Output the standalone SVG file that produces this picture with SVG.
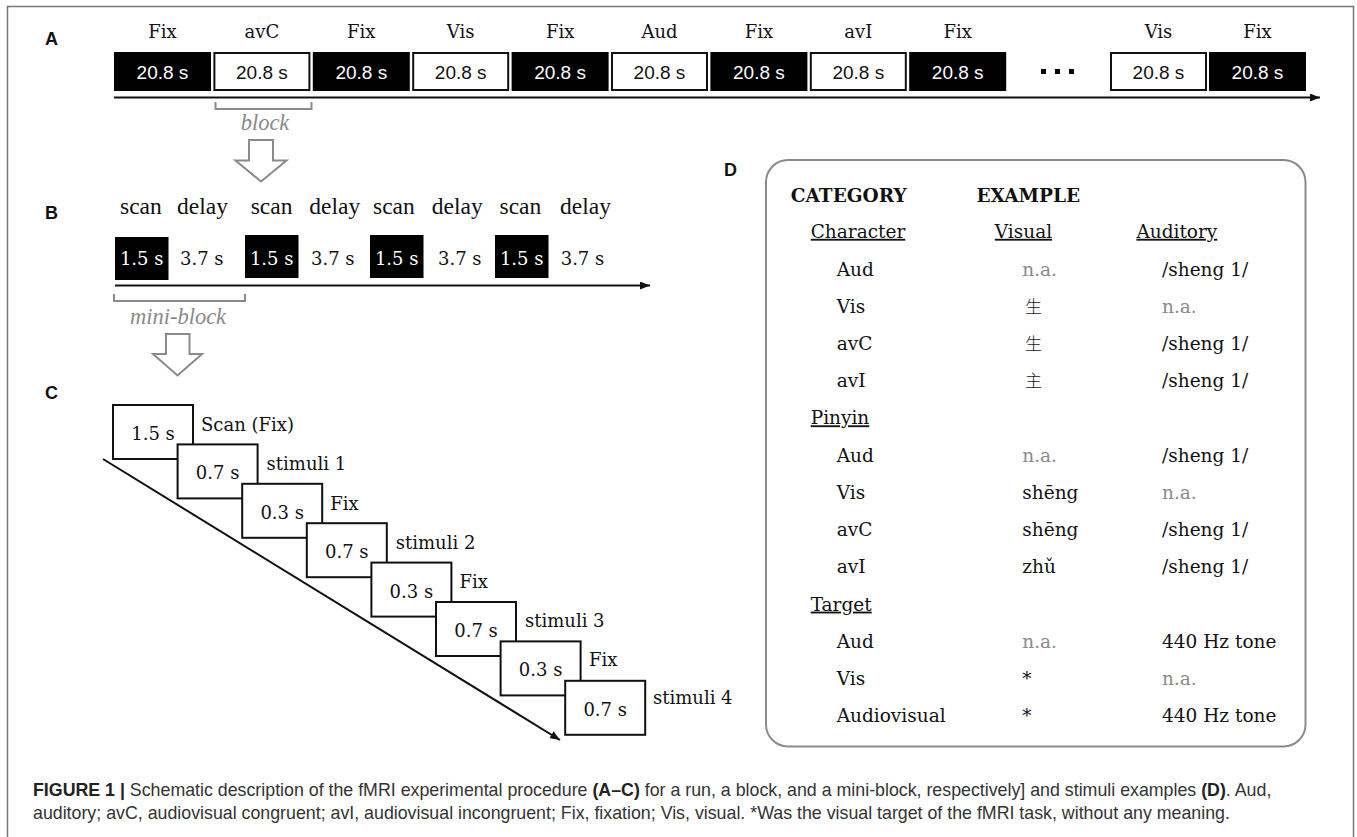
<svg xmlns="http://www.w3.org/2000/svg" width="1357" height="837" viewBox="0 0 1357 837">
<style>
.panel{font-family:"Liberation Sans",Arial,sans-serif;font-weight:bold;font-size:18px;fill:#111}
.lab{font-family:"DejaVu Serif",serif;font-size:18px;fill:#111;text-anchor:middle}
.dur{font-family:"Liberation Sans",Arial,sans-serif;font-size:19px;text-anchor:middle;fill:#111}
.inv{fill:#fff}
.blk{fill:#000}
.wht{fill:#fff;stroke:#111;stroke-width:2}
.sd{font-family:"Liberation Serif","Times New Roman",serif;font-size:23.5px;fill:#111}
.ds{font-family:"DejaVu Serif",serif;font-size:18px;fill:#111}
.dsw{font-family:"DejaVu Serif",serif;font-size:18px;fill:#fff;text-anchor:middle}
.gi{font-family:"Liberation Serif","Times New Roman",serif;font-style:italic;font-size:22.5px;fill:#8a8a8a;text-anchor:middle}
.brk{fill:none;stroke:#8a8a8a;stroke-width:2}
.hol{fill:#fff;stroke:#8a8a8a;stroke-width:2;stroke-linejoin:miter}
.axis{stroke:#111;stroke-width:2;fill:none}
.cbox{fill:#fff;stroke:#111;stroke-width:2}
.ct{font-family:"DejaVu Serif",serif;font-size:18px;fill:#111}
.tb{font-family:"DejaVu Serif",serif;font-size:18.5px;fill:#111}
.tbh{font-family:"DejaVu Serif",serif;font-size:18.5px;font-weight:bold;fill:#111}
.na{fill:#8a8a8a}
.u{text-decoration:underline}
.cjk{font-family:"Noto Sans CJK SC","Noto Sans CJK TC",sans-serif;font-size:17px;font-weight:300;fill:#222}
.cap{font-family:"Liberation Sans",Arial,sans-serif;font-size:17.8px;fill:#333}
.capb{font-weight:bold;fill:#222}
</style>
<defs>
<marker id="ah" markerUnits="userSpaceOnUse" markerWidth="10" markerHeight="8" refX="10" refY="4" orient="auto">
<path d="M0,0 L10,4 L0,8 z" fill="#111"/>
</marker>
</defs>
<rect x="0" y="0" width="1357" height="837" fill="#fff"/>
<path d="M7.5,837 V6.5 H1353.5 V837" fill="none" stroke="#777" stroke-width="1.5"/>

<g id="panel-labels">
<text class="panel" x="45" y="45">A</text>
<text class="panel" x="45" y="219">B</text>
<text class="panel" x="45" y="399">C</text>
<text class="panel" x="724" y="176">D</text>
</g>

<g id="connectors">
<line class="axis" x1="114" y1="97.5" x2="1320" y2="97.5" marker-end="url(#ah)"/>
<line class="axis" x1="115" y1="285.5" x2="650" y2="285.5" marker-end="url(#ah)"/>
<line class="axis" x1="103" y1="459" x2="560" y2="740" marker-end="url(#ah)"/>
<path class="brk" d="M215.5,102 V109 H311.5 V102"/>
<path class="brk" d="M114,294 V301 H245 V294"/>
<path class="hol" d="M249,140 H273 V160.5 H286.5 L261,181.5 L235.5,160.5 H249 Z"/>
<path class="hol" d="M166,334 H189.5 V354 H202 L177.5,375.5 L153,354 H166 Z"/>
</g>

<g id="run-A">
<g id="a1"><rect class="blk" x="114" y="52" width="97" height="39"/><text class="lab" x="162.5" y="38">Fix</text><text class="dur inv" x="162.5" y="79">20.8 s</text></g>
<g id="a2"><rect class="wht" x="214.4" y="53" width="95" height="37"/><text class="lab" x="261.9" y="38">avC</text><text class="dur" x="261.9" y="79">20.8 s</text></g>
<g id="a3"><rect class="blk" x="312.8" y="52" width="97" height="39"/><text class="lab" x="361.3" y="38">Fix</text><text class="dur inv" x="361.3" y="79">20.8 s</text></g>
<g id="a4"><rect class="wht" x="413.2" y="53" width="95" height="37"/><text class="lab" x="460.7" y="38">Vis</text><text class="dur" x="460.7" y="79">20.8 s</text></g>
<g id="a5"><rect class="blk" x="511.6" y="52" width="97" height="39"/><text class="lab" x="560.1" y="38">Fix</text><text class="dur inv" x="560.1" y="79">20.8 s</text></g>
<g id="a6"><rect class="wht" x="612" y="53" width="95" height="37"/><text class="lab" x="659.5" y="38">Aud</text><text class="dur" x="659.5" y="79">20.8 s</text></g>
<g id="a7"><rect class="blk" x="710.4" y="52" width="97" height="39"/><text class="lab" x="758.9" y="38">Fix</text><text class="dur inv" x="758.9" y="79">20.8 s</text></g>
<g id="a8"><rect class="wht" x="810.8" y="53" width="95" height="37"/><text class="lab" x="858.3" y="38">avI</text><text class="dur" x="858.3" y="79">20.8 s</text></g>
<g id="a9"><rect class="blk" x="909.2" y="52" width="97" height="39"/><text class="lab" x="957.7" y="38">Fix</text><text class="dur inv" x="957.7" y="79">20.8 s</text></g>
<g id="a-dots"><rect class="blk" x="1041" y="69" width="5" height="5"/><rect class="blk" x="1055" y="69" width="5" height="5"/><rect class="blk" x="1069" y="69" width="5" height="5"/></g>
<g id="a10"><rect class="wht" x="1111" y="53" width="95" height="37"/><text class="lab" x="1158.5" y="38">Vis</text><text class="dur" x="1158.5" y="79">20.8 s</text></g>
<g id="a11"><rect class="blk" x="1209" y="52" width="97" height="39"/><text class="lab" x="1257.5" y="38">Fix</text><text class="dur inv" x="1257.5" y="79">20.8 s</text></g>
<text class="gi" x="265" y="130">block</text>
</g>

<g id="block-B">
<g id="b1"><text class="sd" x="120" y="214">scan</text><text class="sd" x="177" y="214">delay</text><rect class="blk" x="115" y="237" width="53.5" height="43"/><text class="dsw" x="141.7" y="265">1.5 s</text><text class="ds" x="180" y="265">3.7 s</text></g>
<g id="b2"><text class="sd" x="250.7" y="214">scan</text><text class="sd" x="309.3" y="214">delay</text><rect class="blk" x="245" y="235" width="53.5" height="43"/><text class="dsw" x="271.7" y="265">1.5 s</text><text class="ds" x="311" y="265">3.7 s</text></g>
<g id="b3"><text class="sd" x="373" y="214">scan</text><text class="sd" x="431.8" y="214">delay</text><rect class="blk" x="370" y="235" width="53.5" height="43"/><text class="dsw" x="396.7" y="265">1.5 s</text><text class="ds" x="438" y="265">3.7 s</text></g>
<g id="b4"><text class="sd" x="499.5" y="214">scan</text><text class="sd" x="560" y="214">delay</text><rect class="blk" x="495" y="235" width="53.5" height="43"/><text class="dsw" x="521.7" y="265">1.5 s</text><text class="ds" x="560.7" y="265">3.7 s</text></g>
<text class="gi" x="178" y="324">mini-block</text>
</g>

<g id="miniblock-C">
<g id="c1"><rect class="cbox" x="113" y="405" width="80" height="54"/><text class="ct" x="153" y="440" text-anchor="middle">1.5 s</text><text class="ct" x="201" y="431">Scan (Fix)</text></g>
<g id="c2"><rect class="cbox" x="177.6" y="444.4" width="80" height="54"/><text class="ct" x="217.6" y="479.4" text-anchor="middle">0.7 s</text><text class="ct" x="266.6" y="470">stimuli 1</text></g>
<g id="c3"><rect class="cbox" x="242.2" y="483.8" width="80" height="54"/><text class="ct" x="282.2" y="518.8" text-anchor="middle">0.3 s</text><text class="ct" x="330.2" y="509.5">Fix</text></g>
<g id="c4"><rect class="cbox" x="306.8" y="523.2" width="80" height="54"/><text class="ct" x="346.8" y="558.2" text-anchor="middle">0.7 s</text><text class="ct" x="395.8" y="548.5">stimuli 2</text></g>
<g id="c5"><rect class="cbox" x="371.4" y="562.6" width="80" height="54"/><text class="ct" x="411.4" y="597.6" text-anchor="middle">0.3 s</text><text class="ct" x="459.4" y="587.5">Fix</text></g>
<g id="c6"><rect class="cbox" x="436" y="602" width="80" height="54"/><text class="ct" x="476" y="637" text-anchor="middle">0.7 s</text><text class="ct" x="525" y="626.5">stimuli 3</text></g>
<g id="c7"><rect class="cbox" x="500.6" y="641.4" width="80" height="54"/><text class="ct" x="540.6" y="676.4" text-anchor="middle">0.3 s</text><text class="ct" x="589" y="666">Fix</text></g>
<g id="c8"><rect class="cbox" x="565.2" y="680.8" width="80" height="54"/><text class="ct" x="605.2" y="715.5" text-anchor="middle">0.7 s</text><text class="ct" x="653" y="704">stimuli 4</text></g>
</g>

<g id="table-D">
<rect x="766" y="160" width="539.5" height="586.5" rx="22" ry="22" fill="#fff" stroke="#8a8a8a" stroke-width="2"/>
<text class="tbh" x="790.8" y="201.7">CATEGORY</text>
<text class="tbh" x="976.4" y="201.7">EXAMPLE</text>
<text class="tb u" x="810.7" y="237.8">Character</text>
<text class="tb u" x="994.8" y="237.8">Visual</text>
<text class="tb u" x="1136.4" y="237.8">Auditory</text>
<text class="tb" x="836.7" y="275.5">Aud</text><text class="tb na" x="1022.3" y="275.5">n.a.</text><text class="tb" x="1162" y="275.5">/sheng 1/</text>
<text class="tb" x="836.7" y="312.7">Vis</text><text class="cjk" x="1025" y="312.7">生</text><text class="tb na" x="1162" y="312.7">n.a.</text>
<text class="tb" x="836.7" y="349.9">avC</text><text class="cjk" x="1025" y="349.9">生</text><text class="tb" x="1162" y="349.9">/sheng 1/</text>
<text class="tb" x="836.7" y="387.1">avI</text><text class="cjk" x="1025" y="387.1">主</text><text class="tb" x="1162" y="387.1">/sheng 1/</text>
<text class="tb u" x="810.7" y="424.3">Pinyin</text>
<text class="tb" x="836.7" y="461.5">Aud</text><text class="tb na" x="1022.3" y="461.5">n.a.</text><text class="tb" x="1162" y="461.5">/sheng 1/</text>
<text class="tb" x="836.7" y="498.9">Vis</text><text class="tb" x="1022.3" y="498.9">shēng</text><text class="tb na" x="1162" y="498.9">n.a.</text>
<text class="tb" x="836.7" y="536.2">avC</text><text class="tb" x="1022.3" y="536.2">shēng</text><text class="tb" x="1162" y="536.2">/sheng 1/</text>
<text class="tb" x="836.7" y="573.4">avI</text><text class="tb" x="1022.3" y="573.4">zhǔ</text><text class="tb" x="1162" y="573.4">/sheng 1/</text>
<text class="tb u" x="810.7" y="610.6">Target</text>
<text class="tb" x="836.7" y="647.8">Aud</text><text class="tb na" x="1022.3" y="647.8">n.a.</text><text class="tb" x="1162" y="647.8">440 Hz tone</text>
<text class="tb" x="836.7" y="685">Vis</text><text class="tb" x="1022.3" y="685">*</text><text class="tb na" x="1162" y="685">n.a.</text>
<text class="tb" x="836.7" y="722.3">Audiovisual</text><text class="tb" x="1022.3" y="722.3">*</text><text class="tb" x="1162" y="722.3">440 Hz tone</text>
</g>

<g id="caption">
<text class="cap" x="33" y="796"><tspan class="capb">FIGURE 1 |</tspan> Schematic description of the fMRI experimental procedure <tspan class="capb">(A–C)</tspan> for a run, a block, and a mini-block, respectively] and stimuli examples <tspan class="capb">(D)</tspan>. Aud,</text>
<text class="cap" x="33" y="819">auditory; avC, audiovisual congruent; avI, audiovisual incongruent; Fix, fixation; Vis, visual. *Was the visual target of the fMRI task, without any meaning.</text>
</g>
</svg>
